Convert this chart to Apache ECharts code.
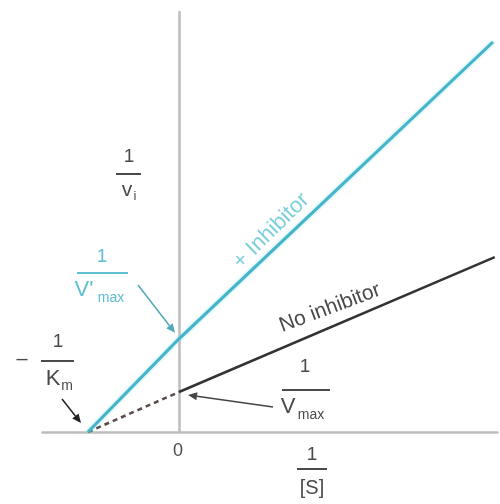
<!DOCTYPE html>
<html>
<head>
<meta charset="utf-8">
<script src="https://cdn.jsdelivr.net/npm/echarts@6/dist/echarts.min.js"></script>
<style>
html, body { margin: 0; padding: 0; background: #fff; }
.char { width: 500px; height: 504px; }
</style>
</head>
<body>
<div id="char" class="char"></div>
<script>
// x in units of 1/Km, y in units of 1/Vmax
var xRange = [-1.5, 3.5];
var yRange = [0, 10.5];
var inhibitorLine = [[-1, 0], [0, 2.33], [3.45, 9.75]];
var noInhibitorDashed = [[-1, 0], [0, 1]];
var noInhibitorSolid = [[0, 1], [3.47, 4.37]];

var FONT = '"Liberation Sans", Arial, sans-serif';
var BLUE = "#45b4c8";
var BLUE_TEXT = "#5dbfd2";
var DARK = "#333";
var GREY_TEXT = "#4a4a4a";

var myChart = echarts.init(document.getElementById("char"));

var option = {
  animation: false,
  grid: { left: 42.5, top: 12, width: 455, height: 420 },
  xAxis: {
    type: "value",
    min: xRange[0],
    max: xRange[1],
    axisLine: { onZero: true, lineStyle: { color: "#bdbdbd", width: 2.5 } },
    axisTick: { show: false },
    axisLabel: { show: false },
    splitLine: { show: false }
  },
  yAxis: {
    type: "value",
    min: yRange[0],
    max: yRange[1],
    axisLine: { onZero: true, lineStyle: { color: "#bdbdbd", width: 2.5 } },
    axisTick: { show: false },
    axisLabel: { show: false },
    splitLine: { show: false }
  },
  series: [
    {
      name: "+ Inhibitor",
      type: "line",
      data: inhibitorLine,
      showSymbol: false,
      lineStyle: { color: BLUE, width: 3, shadowColor: "rgba(120,220,235,0.8)", shadowBlur: 3 },
      z: 3
    },
    {
      name: "No inhibitor (extrapolated)",
      type: "line",
      data: noInhibitorDashed,
      showSymbol: false,
      lineStyle: { color: "#5a4a4a", width: 2.5, type: [5, 4] },
      z: 2
    },
    {
      name: "No inhibitor",
      type: "line",
      data: noInhibitorSolid,
      showSymbol: false,
      lineStyle: { color: DARK, width: 2.5 },
      z: 2
    }
  ]
};
myChart.setOption(option);

function txt(x, y, s, size, color, extra) {
  var el = {
    type: "text",
    x: x,
    y: y,
    z: 10,
    style: {
      text: s,
      font: size + "px " + FONT,
      fill: color,
      align: "center",
      verticalAlign: "middle"
    }
  };
  if (extra) for (var k in extra) el[k] = extra[k];
  return el;
}

function bar(x1, x2, y, color) {
  return {
    type: "line",
    z: 10,
    shape: { x1: x1, y1: y, x2: x2, y2: y },
    style: { stroke: color, lineWidth: 2 }
  };
}

function arrow(from, tip, color) {
  var a = Math.atan2(tip[1] - from[1], tip[0] - from[0]);
  var hl = 9, hw = 4;
  var bx = tip[0] - hl * Math.cos(a), by = tip[1] - hl * Math.sin(a);
  var px = -Math.sin(a) * hw, py = Math.cos(a) * hw;
  return [
    {
      type: "line",
      z: 11,
      shape: { x1: from[0], y1: from[1], x2: bx, y2: by },
      style: { stroke: color, lineWidth: 1.5 }
    },
    {
      type: "polygon",
      z: 11,
      shape: { points: [tip, [bx + px, by + py], [bx - px, by - py]] },
      style: { fill: color }
    }
  ];
}

var pVi = myChart.convertToPixel({ gridIndex: 0 }, inhibitorLine[1]);
var pV = myChart.convertToPixel({ gridIndex: 0 }, noInhibitorSolid[0]);
var pK = myChart.convertToPixel({ gridIndex: 0 }, inhibitorLine[0]);

var g = [];
// 1 / vi
g.push(txt(129, 157, "1", 19, GREY_TEXT));
g.push(bar(116, 141, 174, GREY_TEXT));
g.push(txt(127, 190, "v", 21, GREY_TEXT));
g.push(txt(135, 196, "i", 13, GREY_TEXT));

// 1 / V'max (blue)
g.push(txt(102, 257, "1", 19, BLUE_TEXT));
g.push(bar(77, 128, 273, BLUE_TEXT));
g.push(txt(84, 290, "V'", 22, BLUE_TEXT));
g.push(txt(111, 298, "max", 14, BLUE_TEXT));
g = g.concat(arrow([138, 285], [pVi[0] - 4, pVi[1] - 6], "#4fa9b8"));

// - 1 / Km
g.push(txt(22, 359, "\u2013", 20, GREY_TEXT));
g.push(txt(58, 342, "1", 19, GREY_TEXT));
g.push(bar(41, 74, 361, GREY_TEXT));
g.push(txt(53, 379, "K", 22, GREY_TEXT));
g.push(txt(67, 386, "m", 14, GREY_TEXT));
g = g.concat(arrow([62, 399], [pK[0] - 7, pK[1] - 9], "#222"));

// 1 / Vmax
g.push(txt(305, 367, "1", 19, GREY_TEXT));
g.push(bar(282, 330, 390, GREY_TEXT));
g.push(txt(288, 407, "V", 22, GREY_TEXT));
g.push(txt(311, 415, "max", 14, GREY_TEXT));
g = g.concat(arrow([273, 407], [pV[0] + 9, pV[1] + 3], "#444"));

// x axis: 0 and 1 / [S]
g.push(txt(178, 451, "0", 18, GREY_TEXT));
g.push(txt(312, 455, "1", 19, GREY_TEXT));
g.push(bar(297, 327, 469, GREY_TEXT));
g.push(txt(312, 488, "[S]", 20, GREY_TEXT));

// line labels
g.push(txt(271, 231, "+ Inhibitor", 22, "#7ccfdd", { rotation: 44.6 * Math.PI / 180 }));
g.push(txt(330, 308, "No inhibitor", 21, GREY_TEXT, { rotation: 20.5 * Math.PI / 180 }));

myChart.setOption({ graphic: g });
</script>
</body>
</html>
